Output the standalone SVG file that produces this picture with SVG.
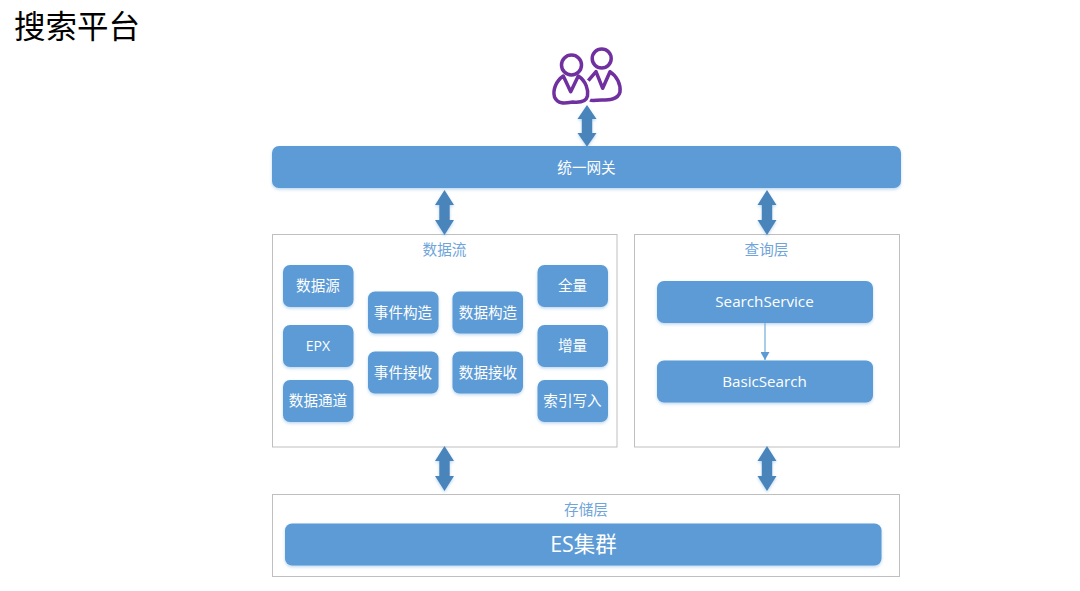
<svg xmlns="http://www.w3.org/2000/svg" width="1080" height="591" viewBox="0 0 1080 591">
<style>
text{font-family:"Open Sans","Noto Sans CJK SC",sans-serif;text-anchor:middle}
.frame{fill:#fff;stroke:#bfbfbf;stroke-width:1}
.node{fill:#5b9bd5;filter:url(#sh)}
.lbl{fill:#fff;font-size:14.6px}
.lat{font-size:15.200px}
.cap{fill:#6fa5da;font-size:14.6px}
.dbl{fill:#4a84bb;filter:url(#sh)}
.p{fill:none;stroke:#7030a0;stroke-width:3.500;stroke-linejoin:round}
</style>
<defs>
<filter id="sh" x="-10%" y="-20%" width="120%" height="150%"><feDropShadow dx="0" dy="1.500" stdDeviation="1.500" flood-color="#5b9bd5" flood-opacity="0.4"/></filter>
<marker id="ah" markerUnits="userSpaceOnUse" markerWidth="9" markerHeight="9" refX="8" refY="4.500" orient="auto"><path d="M0 0L8 4.500L0 9Z" fill="#5b9bd5"/></marker>
<path id="da" d="M0 0L9.500 15H5.200V30H9.500L0 45L-9.500 30H-5.200V15H-9.500Z"/>
</defs>
<rect width="1080" height="591" fill="#fff"/>
<text x="77" y="38" style="font-size:31.500px" fill="#000">搜索平台</text>
<g id="users">
<circle class="p" cx="571.500" cy="65" r="10"/>
<circle class="p" cx="601.700" cy="58.500" r="9.500"/>
<path class="p" d="M563.300 76L570.700 91.700L578.300 76C586 81 588.500 90 587.500 96C586 102 578 102.500 573 102C566 103 558 105 554.500 97C552.500 90 556 81 563.300 76Z"/>
<path class="p" d="M588.300 80.700L596 71.700L602.700 88.300L610 71.700C617 76 621 85 620 92C618 100 608 100 602 100C597 100 592 101 590 100"/>
</g>
<g id="gateway"><rect class="node" x="272" y="146" width="629" height="42" rx="7"/><text class="lbl" x="586.500" y="172.500">统一网关</text></g>
<g id="dataflow"><rect class="frame" x="272.500" y="234.500" width="344.500" height="212.500"/><text class="cap" x="444.500" y="255">数据流</text></g>
<g id="query"><rect class="frame" x="634.500" y="234.500" width="265" height="212.500"/><text class="cap" x="766.500" y="255">查询层</text></g>
<g id="storage"><rect class="frame" x="272.500" y="494.500" width="627" height="82"/><text class="cap" x="586" y="514.500">存储层</text></g>
<g id="n1"><rect class="node" x="283" y="265" width="70.500" height="42" rx="7"/><text class="lbl" x="318" y="291">数据源</text></g>
<g id="n2"><rect class="node" x="283" y="325" width="70.500" height="42" rx="7"/><text class="lbl lat" x="318" y="351" style="font-size:14px">EPX</text></g>
<g id="n3"><rect class="node" x="283" y="380" width="70.500" height="42" rx="7"/><text class="lbl" x="318" y="406">数据通道</text></g>
<g id="n4"><rect class="node" x="368" y="291.500" width="70.500" height="42" rx="7"/><text class="lbl" x="403" y="318">事件构造</text></g>
<g id="n5"><rect class="node" x="368" y="351.500" width="70.500" height="42" rx="7"/><text class="lbl" x="403" y="378">事件接收</text></g>
<g id="n6"><rect class="node" x="452.500" y="291.500" width="70.500" height="42" rx="7"/><text class="lbl" x="488" y="318">数据构造</text></g>
<g id="n7"><rect class="node" x="452.500" y="351.500" width="70.500" height="42" rx="7"/><text class="lbl" x="488" y="378">数据接收</text></g>
<g id="n8"><rect class="node" x="537.500" y="265" width="70.500" height="42" rx="7"/><text class="lbl" x="572.500" y="291">全量</text></g>
<g id="n9"><rect class="node" x="537.500" y="325" width="70.500" height="42" rx="7"/><text class="lbl" x="572.500" y="351">增量</text></g>
<g id="n10"><rect class="node" x="537.500" y="380" width="70.500" height="42" rx="7"/><text class="lbl" x="572.500" y="406">索引写入</text></g>
<g id="searchservice"><rect class="node" x="657" y="281" width="216" height="42" rx="7"/><text class="lbl lat" x="764.500" y="307" style="font-size:15.200px">SearchService</text></g>
<g id="basicsearch"><rect class="node" x="657" y="360.500" width="216" height="42" rx="7"/><text class="lbl lat" x="764.500" y="386.500" style="font-size:15.200px">BasicSearch</text></g>
<g id="es"><rect class="node" x="285" y="523.500" width="596.500" height="42" rx="7"/><text class="lbl" x="583.500" y="552" style="font-size:21.500px">ES集群</text></g>
<g id="connectors">
<use href="#da" class="dbl" transform="translate(587 105) scale(1 .93)"/>
<use href="#da" class="dbl" transform="translate(444.500 190)"/>
<use href="#da" class="dbl" transform="translate(767 190)"/>
<use href="#da" class="dbl" transform="translate(444.500 446)"/>
<use href="#da" class="dbl" transform="translate(767 446)"/>
<path d="M765 323V360" stroke="#7fb0df" stroke-width="1.300" fill="none" marker-end="url(#ah)"/>
</g>
</svg>
